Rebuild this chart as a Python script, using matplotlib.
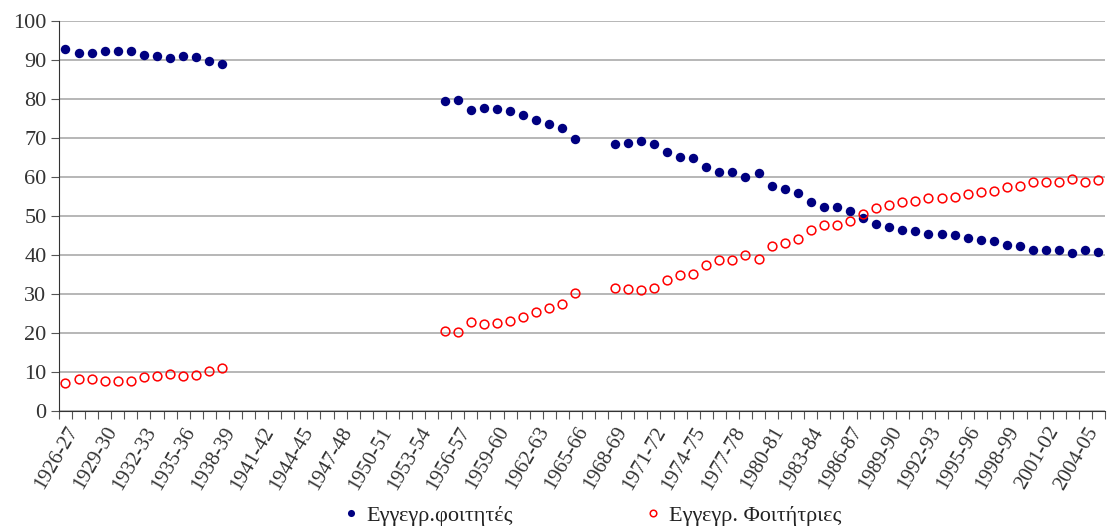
import numpy as np
import matplotlib
matplotlib.use("Agg")
import matplotlib.pyplot as plt

plt.rcParams['font.family'] = ['Liberation Serif', 'DejaVu Serif']

# academic years 1926-27 .. 2005-06
years = ['%d-%02d' % (y, (y + 1) % 100) for y in range(1926, 2006)]
nan = np.nan

# % male registered students (Εγγεγρ.φοιτητές)
male = [92.7, 91.9, 91.9, 92.2, 92.2, 92.2, 91.2, 90.9, 90.5, 91.1, 90.8, 89.8, 89.0] + \
       [nan] * 16 + \
       [79.5, 79.7, 77.2, 77.8, 77.4, 76.9, 76.0, 74.5, 73.5, 72.6, 69.7] + \
       [nan] * 2 + \
       [68.5, 68.7, 69.1, 68.5, 66.4, 65.1, 64.8, 62.6, 61.4, 61.3, 59.9, 61.0,
        57.6, 57.0, 56.0, 53.6, 52.3, 52.3, 51.3, 49.6, 48.0, 47.3, 46.4, 46.2,
        45.5, 45.5, 45.1, 44.4, 43.9, 43.7, 42.5, 42.4, 41.2, 41.2, 41.2, 40.5,
        41.2, 40.8]

# % female registered students (Εγγεγρ. Φοιτήτριες)
female = [7.3, 8.1, 8.1, 7.8, 7.8, 7.8, 8.8, 9.1, 9.5, 8.9, 9.2, 10.2, 11.0] + \
         [nan] * 16 + \
         [20.5, 20.3, 22.8, 22.2, 22.6, 23.1, 24.0, 25.5, 26.5, 27.4, 30.3] + \
         [nan] * 2 + \
         [31.5, 31.3, 30.9, 31.5, 33.6, 34.9, 35.2, 37.4, 38.6, 38.7, 40.1, 39.0,
          42.4, 43.0, 44.0, 46.4, 47.7, 47.7, 48.7, 50.4, 52.0, 52.7, 53.6, 53.8,
          54.5, 54.5, 54.9, 55.6, 56.1, 56.3, 57.5, 57.6, 58.8, 58.8, 58.8, 59.5,
          58.8, 59.2]

x = np.arange(len(years))

fig = plt.figure(figsize=(11.08, 5.31), dpi=100)
ax = fig.add_axes([0.0532, 0.226, 0.9441, 0.7345])

ax.plot(x, male, 'o', color='#000080', markersize=6.8, markeredgewidth=0,
        label='Εγγεγρ.φοιτητές')
ax.plot(x, female, 'o', markerfacecolor='none', markeredgecolor='#ff0000',
        markersize=6.3, markeredgewidth=1.1, label='Εγγεγρ. Φοιτήτριες')

ax.set_xlim(-0.5, len(years) - 0.5)
ax.set_ylim(0, 100)
ax.set_yticks(range(0, 101, 10))
ax.yaxis.grid(True, color='#aaaaaa', linewidth=1.2)
ax.set_axisbelow(True)

# tick marks between categories, labels every third category
ax.set_xticks(np.arange(len(years) + 1) - 0.5)
ax.set_xticklabels([])
ax.set_xticks(x[::3], minor=True)
ax.set_xticklabels(years[::3], minor=True, rotation=60, ha='right',
                   va='top', rotation_mode='anchor')
ax.tick_params(axis='x', which='major', length=6, color='#555555', direction='out')
ax.tick_params(axis='x', which='minor', length=0, pad=9, labelsize=15, labelcolor='#333333')
ax.tick_params(axis='y', length=6, color='#555555', labelsize=16, labelcolor='#333333', pad=3)

for s in ['top', 'right']:
    ax.spines[s].set_visible(False)
for s in ['left', 'bottom']:
    ax.spines[s].set_color('#333333')

fig.legend(loc='lower center', bbox_to_anchor=(0.534, -0.028), ncol=2, frameon=False,
           fontsize=16, columnspacing=5.9, handlelength=0.8, handletextpad=0.3,
           markerscale=0.75, labelcolor='#222222')

fig.savefig('out.png', dpi=100)
